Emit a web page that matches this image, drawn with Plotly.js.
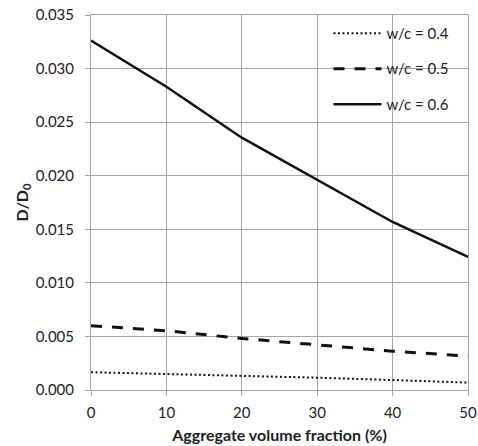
<!DOCTYPE html>
<html>
<head>
<meta charset="utf-8">
<script src="https://cdn.plot.ly/plotly-3.0.1.min.js"></script>
<style>html,body{margin:0;padding:0;background:#fff;}#chart{width:478px;height:446px;}</style>
</head>
<body>
<div id="chart"></div>
<script>
var xValues = [0, 10, 20, 30, 40, 50];
var wc04 = [0.00166, 0.00150, 0.00134, 0.00115, 0.00093, 0.00069];
var wc05 = [0.00600, 0.00553, 0.00481, 0.00423, 0.00362, 0.00317];
var wc06 = [0.03262, 0.02830, 0.02355, 0.01965, 0.01568, 0.01242];
var seriesNames = ['w/c = 0.4', 'w/c = 0.5', 'w/c = 0.6'];
var yTicks = [0, 0.005, 0.010, 0.015, 0.020, 0.025, 0.030, 0.035];
var xTicks = [0, 10, 20, 30, 40, 50];

var font = 'Lato, "Open Sans", sans-serif';
var traces = [
  {x: xValues, y: wc04, name: seriesNames[0], legendgroup: 'a', mode: 'lines',
   line: {color: '#111', width: 2, dash: '2px,2.5px'}},
  {x: xValues, y: wc05, name: seriesNames[1], legendgroup: 'b', mode: 'lines',
   line: {color: '#111', width: 3, dash: '11px,10px'}},
  {x: xValues, y: wc06, name: seriesNames[2], legendgroup: 'c', mode: 'lines',
   line: {color: '#111', width: 2.5}}
];

var layout = {
  width: 478, height: 446,
  margin: {l: 91, r: 10, t: 15, b: 56},
  paper_bgcolor: '#fff', plot_bgcolor: '#fff',
  font: {family: font, size: 15, color: '#222'},
  showlegend: true,
  legend: {x: 0.63, y: 0.995, xanchor: 'left', yanchor: 'top', bgcolor: 'rgba(0,0,0,0)',
           borderwidth: 0, tracegroupgap: 13, traceorder: 'grouped', itemwidth: 48,
           font: {family: font, size: 15, color: '#222'}},
  xaxis: {range: [0, 50], tickvals: xTicks, ticktext: xTicks.map(String),
          showgrid: true, gridcolor: '#a6a6a6', gridwidth: 1,
          showline: true, linecolor: '#a6a6a6', linewidth: 1, mirror: true,
          ticks: 'outside', ticklen: 5, tickcolor: '#a6a6a6', zeroline: false,
          ticklabelstandoff: 4,
          tickfont: {family: font, size: 15, color: '#222'},
          title: {text: '<b>Aggregate volume fraction (%)</b>', standoff: 9,
                  font: {family: font, size: 16, color: '#222'}}},
  yaxis: {range: [0, 0.035], tickvals: yTicks, ticktext: yTicks.map(function(v){return v.toFixed(3);}),
          showgrid: true, gridcolor: '#a6a6a6', gridwidth: 1,
          showline: true, linecolor: '#a6a6a6', linewidth: 1, mirror: true,
          ticks: 'outside', ticklen: 5, tickcolor: '#a6a6a6', zeroline: false,
          ticklabelstandoff: 8,
          tickfont: {family: font, size: 15, color: '#222'},
          title: {text: '<b>D/D<sub>0</sub></b>', standoff: 3,
                  font: {family: font, size: 16, color: '#222'}}},
  shapes: [{type: 'rect', xref: 'paper', yref: 'paper', layer: 'between',
            x0: 0.6, x1: 0.995, y0: 0.715, y1: 1,
            fillcolor: '#fff', line: {width: 0}}]
};

Plotly.newPlot('chart', traces, layout, {displayModeBar: false, staticPlot: true});
</script>
</body>
</html>
